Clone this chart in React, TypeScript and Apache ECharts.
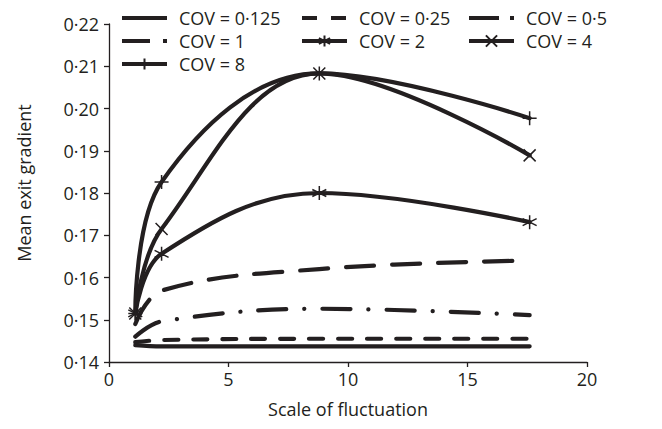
import React, { useEffect, useRef } from "react";
import * as echarts from "echarts";

// x positions of the computed points as they sit on the axis
const xPositions = [1.1, 2.2, 8.8, 17.6];

const cov0125 = [0.1440, 0.1437, 0.1437, 0.1437];
const cov025 = [0.1447, 0.1452, 0.1455, 0.1455];
const cov05 = [0.1460, 0.1496, 0.1526, 0.1511];
const cov1 = [0.1490, 0.1569, 0.1620, 0.1640];
const cov2 = [0.1515, 0.1656, 0.1800, 0.1731];
const cov4 = [0.1515, 0.1715, 0.2083, 0.1889];
const cov8 = [0.1515, 0.1826, 0.2083, 0.1977];

const seriesNames = [
  "COV = 0·125",
  "COV = 0·25",
  "COV = 0·5",
  "COV = 1",
  "COV = 2",
  "COV = 4",
  "COV = 8",
];

const xTicks = [0, 5, 10, 15, 20];
const yTickMin = 0.14;
const yTickMax = 0.22;

const INK = "#231f20";
const FONT = "'Open Sans', 'Noto Sans', sans-serif";

const STAR = "path://M6,0 L6,12 M0.8,3 L11.2,9 M0.8,9 L11.2,3";
const CROSS = "path://M0,0 L10,10 M0,10 L10,0";
const PLUS = "path://M5,0 L5,10 M0,5 L10,5";

const DASH_025 = [14, 15];
const DASH_05 = [28, 18, 0.1, 18];
const DASH_1 = [28, 18];

export default function App() {
  const ref = useRef<HTMLDivElement>(null);
  useEffect(() => {
    document.body.style.margin = "0";
    if (!ref.current) return;
    const chart = echarts.init(ref.current, null, { renderer: "svg" });
    const pts = (ys: number[]) => xPositions.map((x, i) => [x, ys[i]]);
    const mk = (
      name: string,
      ys: number[],
      type: any,
      symbol: string | null,
      symbolSize = 14
    ) => ({
      name,
      type: "line",
      data: pts(ys),
      smooth: 0.38,
      symbol: symbol || "none",
      showSymbol: !!symbol,
      symbolSize,
      lineStyle: { color: INK, width: 4.2, type, cap: "round" },
      itemStyle: symbol
        ? { color: "transparent", borderColor: INK, borderWidth: 1.5 }
        : { color: "transparent", borderColor: "transparent", borderWidth: 0 },
      emphasis: { disabled: true },
      z: 2,
    });
    const legendBase = {
      orient: "vertical",
      top: 9,
      padding: 0,
      itemGap: 5,
      itemWidth: 45,
      itemHeight: 14,
      lineStyle: { width: 4 },
      textStyle: {
        fontFamily: FONT,
        fontSize: 18,
        color: INK,
        padding: [0, 0, 0, 7],
      },
      selectedMode: false,
    };
    const li = (i: number, type: any = "solid") => ({
      name: seriesNames[i],
      lineStyle: { width: 4, type, cap: "butt" },
    });
    chart.setOption({
      animation: false,
      grid: { left: 109, right: 75, top: 24, bottom: 67 },
      legend: [
        { ...legendBase, left: 120, data: [li(0), li(3, [28, 13]), li(6)] },
        { ...legendBase, left: 300, data: [li(1, [15, 14]), li(4)] },
        { ...legendBase, left: 467, data: [li(2, [30, 11]), li(5)] },
      ],
      xAxis: {
        type: "value",
        min: xTicks[0],
        max: xTicks[xTicks.length - 1],
        interval: 5,
        name: "Scale of fluctuation",
        nameLocation: "middle",
        nameGap: 38,
        nameTextStyle: { fontFamily: FONT, fontSize: 18, color: INK },
        axisLine: { lineStyle: { color: INK, width: 1.3 } },
        axisTick: { show: true, length: 5, lineStyle: { color: INK, width: 1.3 } },
        axisLabel: { fontFamily: FONT, fontSize: 18, color: INK, margin: 8 },
        splitLine: { show: false },
      },
      yAxis: {
        type: "value",
        min: yTickMin,
        max: yTickMax,
        interval: 0.01,
        name: "Mean exit gradient",
        nameLocation: "middle",
        nameGap: 76,
        nameTextStyle: {
          fontFamily: FONT,
          fontSize: 18,
          color: INK,
          padding: [0, 0, 0, 20],
        },
        axisLine: { show: true, lineStyle: { color: INK, width: 1.3 } },
        axisTick: { show: true, length: 5, lineStyle: { color: INK, width: 1.3 } },
        axisLabel: {
          fontFamily: FONT,
          fontSize: 18,
          color: INK,
          margin: 10,
          formatter: (v: number) => v.toFixed(2).replace(".", "·"),
        },
        splitLine: { show: false },
      },
      series: [
        mk(seriesNames[0], cov0125, "solid", null),
        mk(seriesNames[1], cov025, DASH_025, null),
        mk(seriesNames[2], cov05, DASH_05, null),
        mk(seriesNames[3], cov1, DASH_1, null),
        mk(seriesNames[4], cov2, "solid", STAR, 14),
        mk(seriesNames[5], cov4, "solid", CROSS, 12),
        mk(seriesNames[6], cov8, "solid", PLUS, 14),
      ],
    });
    return () => chart.dispose();
  }, []);
  return <div ref={ref} style={{ width: 662, height: 429 }} />;
}
